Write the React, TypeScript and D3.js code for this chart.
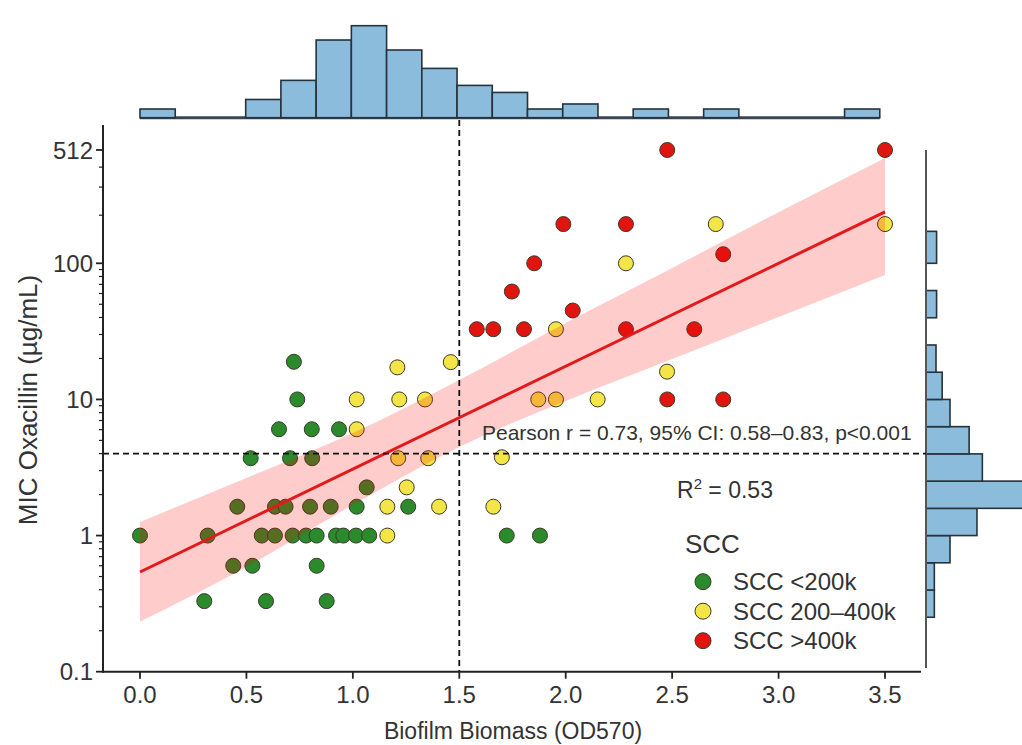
import * as d3 from "d3";
import { useEffect, useRef } from "react";

const W = 1022;
const H = 745;

// points per SCC group: [biofilm OD570, MIC µg/mL]
const sccLow: [number, number][] = [
  [0.723, 18.9], [0.739, 10], [0.653, 6.04], [0.807, 6.04], [0.935, 6.04],
  [0.52, 3.7], [0.705, 3.7], [0.809, 3.7], [1.065, 2.26],
  [0.457, 1.63], [0.634, 1.63], [0.684, 1.63], [0.799, 1.63], [0.896, 1.63], [1.018, 1.63], [1.26, 1.63],
  [0.0, 1], [0.318, 1], [0.572, 1], [0.634, 1], [0.717, 1], [0.78, 1], [0.83, 1], [0.921, 1],
  [0.955, 1], [1.015, 1], [1.077, 1], [1.723, 1], [1.879, 1],
  [0.438, 0.6], [0.528, 0.6], [0.83, 0.6],
  [0.302, 0.33], [0.592, 0.33], [0.877, 0.33],
];
const sccMid: [number, number][] = [
  [2.705, 176], [3.5, 176], [2.283, 100], [1.954, 32.8], [1.46, 18.8], [1.209, 17.2], [2.476, 16],
  [1.018, 10], [1.218, 10], [1.339, 10], [1.871, 10], [1.954, 10], [2.15, 10],
  [1.018, 6.04], [1.213, 3.7], [1.354, 3.7], [1.7, 3.76], [1.253, 2.26],
  [1.162, 1.63], [1.405, 1.63], [1.66, 1.63], [1.162, 1],
];
const sccHigh: [number, number][] = [
  [2.477, 512], [3.5, 512], [1.989, 176], [2.283, 176], [2.74, 114], [1.852, 100],
  [1.747, 62], [2.033, 45], [1.582, 32.8], [1.66, 32.8], [1.804, 32.8], [2.283, 32.8], [2.604, 32.8],
  [2.477, 10], [2.74, 10],
];

const groupNames = ["SCC <200k", "SCC 200–400k", "SCC >400k"];
const groupColors = ["#2b8a2b", "#f3e548", "#e0150f"];

// log-linear fit and its 95% band
const fitX = [0, 3.5];
const fitY = [0.54, 210];
const bandX = [0, 0.5, 1, 1.5, 2, 2.5, 3, 3.5];
const bandLow = [0.233, 0.588, 1.68, 4.48, 9.75, 19.8, 40.3, 82];
const bandHigh = [1.26, 2.65, 5.67, 13.9, 36.5, 92.5, 209, 456];

// marginal histograms
const topBinWidth = 0.1655;
const topCounts = [1, 0, 0, 2.1, 4.3, 8.95, 10.6, 7.8, 5.68, 3.72, 2.91, 1, 1.58, 0, 1, 0, 1, 0, 0, 0, 1];
const rightBinStart = -0.6; // log10 of MIC
const rightBinWidth = 0.2;
const rightCounts = [0.85, 0.85, 2.45, 5.2, 11, 5.75, 4.4, 2.45, 1.65, 1.02, 0, 1.08, 0, 1.08];

const xTicks = [0, 0.5, 1, 1.5, 2, 2.5, 3, 3.5];
const yTicks = [0.1, 1, 10, 100, 512];
const yTickLabels = ["0.1", "1", "10", "100", "512"];
const cutX = 1.5;
const cutY = 4;

const FONT = "'Liberation Sans', Arial, Helvetica, sans-serif";

export default function App() {
  const ref = useRef<SVGSVGElement>(null);

  useEffect(() => {
    const svg = d3.select(ref.current);
    svg.selectAll("*").remove();

    const x = d3.scaleLinear().domain([0, 3.5]).range([140, 885]);
    // the 512 label sits higher than a plain log axis would put it
    const y = d3.scaleLog().domain([0.1, 100, 512]).range([671.7, 263.3, 150]);

    const axisLeft = 103;
    const axisBottom = 671.7;
    const axisTop = 125;
    const axisRight = 921;
    const sideAxis = 926;

    // top histogram
    const histBase = 117.7;
    const hy = d3.scaleLinear().domain([0, 10.6]).range([histBase, 25.7]);
    const top = svg.append("g");
    top.append("line")
      .attr("x1", x(0)).attr("x2", x(topBinWidth * topCounts.length))
      .attr("y1", histBase).attr("y2", histBase)
      .attr("stroke", "#3a4650").attr("stroke-width", 3);
    top.selectAll("rect")
      .data(topCounts.map((c, i) => ({ c, i })).filter(d => d.c > 0))
      .enter()
      .append("rect")
      .attr("x", d => x(d.i * topBinWidth))
      .attr("width", d => x((d.i + 1) * topBinWidth) - x(d.i * topBinWidth))
      .attr("y", d => hy(d.c))
      .attr("height", d => histBase - hy(d.c))
      .attr("fill", "#8cbcdc")
      .attr("stroke", "#26323c")
      .attr("stroke-width", 1.6);

    // right histogram
    const hx = d3.scaleLinear().domain([0, 10]).range([sideAxis, sideAxis + 98]);
    const right = svg.append("g");
    right.selectAll("rect")
      .data(rightCounts.map((c, i) => ({ c, i })).filter(d => d.c > 0))
      .enter()
      .append("rect")
      .attr("x", sideAxis)
      .attr("y", d => y(Math.pow(10, rightBinStart + (d.i + 1) * rightBinWidth)))
      .attr("width", d => hx(d.c) - sideAxis)
      .attr("height", d => y(Math.pow(10, rightBinStart + d.i * rightBinWidth)) - y(Math.pow(10, rightBinStart + (d.i + 1) * rightBinWidth)))
      .attr("fill", "#8cbcdc")
      .attr("stroke", "#26323c")
      .attr("stroke-width", 1.6);
    right.append("line")
      .attr("x1", sideAxis).attr("x2", sideAxis)
      .attr("y1", 150).attr("y2", 668)
      .attr("stroke", "#555").attr("stroke-width", 2);

    // points
    const pts = svg.append("g");
    [sccLow, sccMid, sccHigh].forEach((arr, gi) => {
      pts.selectAll(null)
        .data(arr)
        .enter()
        .append("circle")
        .attr("cx", d => x(d[0]))
        .attr("cy", d => y(d[1]))
        .attr("r", 7.5)
        .attr("fill", groupColors[gi])
        .attr("stroke", "#3a3a2a")
        .attr("stroke-width", 1);
    });

    // confidence band + fit line, on top of the points
    const band = d3.area<number>()
      .x((_, i) => x(bandX[i]))
      .y0((_, i) => y(bandLow[i]))
      .y1((_, i) => y(bandHigh[i]))
      .curve(d3.curveMonotoneX);
    svg.append("path")
      .attr("d", band(bandX))
      .attr("fill", "#ff0000")
      .attr("fill-opacity", 0.2);
    svg.append("line")
      .attr("x1", x(fitX[0])).attr("y1", y(fitY[0]))
      .attr("x2", x(fitX[1])).attr("y2", y(fitY[1]))
      .attr("stroke", "#e31a1c").attr("stroke-width", 3);

    // reference lines
    svg.append("line")
      .attr("x1", x(cutX)).attr("x2", x(cutX))
      .attr("y1", 120).attr("y2", axisBottom)
      .attr("stroke", "#111").attr("stroke-width", 1.8).attr("stroke-dasharray", "6,4");
    svg.append("line")
      .attr("x1", axisLeft).attr("x2", sideAxis)
      .attr("y1", y(cutY)).attr("y2", y(cutY))
      .attr("stroke", "#111").attr("stroke-width", 1.8).attr("stroke-dasharray", "6,4");

    // axes
    const ax = svg.append("g").attr("font-family", FONT).attr("fill", "#333");
    ax.append("line")
      .attr("x1", axisLeft).attr("x2", axisLeft).attr("y1", axisTop).attr("y2", axisBottom + 1)
      .attr("stroke", "#222").attr("stroke-width", 2);
    ax.append("line")
      .attr("x1", axisLeft - 1).attr("x2", axisRight).attr("y1", axisBottom).attr("y2", axisBottom)
      .attr("stroke", "#222").attr("stroke-width", 2);

    const minor = [0.1, 1, 10, 100]
      .flatMap(d => d3.range(2, 10).map(k => k * d))
      .filter(v => v < 500);
    ax.selectAll(".minor")
      .data(minor)
      .enter()
      .append("line")
      .attr("x1", axisLeft - 4).attr("x2", axisLeft)
      .attr("y1", d => y(d)).attr("y2", d => y(d))
      .attr("stroke", "#222").attr("stroke-width", 1.2);
    ax.selectAll(".ytick")
      .data(yTicks)
      .enter()
      .append("line")
      .attr("x1", axisLeft - 7).attr("x2", axisLeft)
      .attr("y1", d => y(d)).attr("y2", d => y(d))
      .attr("stroke", "#222").attr("stroke-width", 1.8);
    ax.selectAll(".ylab")
      .data(yTicks)
      .enter()
      .append("text")
      .attr("x", axisLeft - 10)
      .attr("y", d => y(d) + 8.5)
      .attr("text-anchor", "end")
      .attr("font-size", 24)
      .text((_, i) => yTickLabels[i]);

    ax.selectAll(".xtick")
      .data(xTicks)
      .enter()
      .append("line")
      .attr("x1", d => x(d)).attr("x2", d => x(d))
      .attr("y1", axisBottom).attr("y2", axisBottom + 7)
      .attr("stroke", "#222").attr("stroke-width", 1.8);
    ax.selectAll(".xlab")
      .data(xTicks)
      .enter()
      .append("text")
      .attr("x", d => x(d))
      .attr("y", axisBottom + 31)
      .attr("text-anchor", "middle")
      .attr("font-size", 24)
      .text(d => d3.format(".1f")(d));

    ax.append("text")
      .attr("x", 513).attr("y", 739)
      .attr("text-anchor", "middle")
      .attr("font-size", 23)
      .text("Biofilm Biomass (OD570)");
    ax.append("text")
      .attr("transform", "translate(37,400) rotate(-90)")
      .attr("text-anchor", "middle")
      .attr("font-size", 26)
      .text("MIC Oxacillin (µg/mL)");

    // annotations
    const note = svg.append("g").attr("font-family", FONT).attr("fill", "#333");
    note.append("text")
      .attr("x", 482).attr("y", 440)
      .attr("font-size", 21)
      .text("Pearson r = 0.73, 95% CI: 0.58–0.83, p<0.001");
    const r2 = note.append("text").attr("x", 677).attr("y", 498).attr("font-size", 23);
    r2.append("tspan").text("R");
    r2.append("tspan").attr("font-size", 15).attr("dy", -9).text("2");
    r2.append("tspan").attr("dy", 9).text(" = 0.53");

    // legend
    const lg = svg.append("g").attr("font-family", FONT).attr("fill", "#333");
    lg.append("text").attr("x", 685).attr("y", 553).attr("font-size", 26).text("SCC");
    groupNames.forEach((name, i) => {
      const cy = 581.7 + i * 29.5;
      lg.append("circle")
        .attr("cx", 703).attr("cy", cy).attr("r", 8)
        .attr("fill", groupColors[i]).attr("stroke", "#3a3a2a").attr("stroke-width", 1);
      lg.append("text")
        .attr("x", 733).attr("y", cy + 8.5)
        .attr("font-size", 24)
        .text(name);
    });
  }, []);

  return (
    <svg
      ref={ref}
      width={W}
      height={H}
      style={{ position: "absolute", left: 0, top: 0, background: "#fff" }}
    />
  );
}
